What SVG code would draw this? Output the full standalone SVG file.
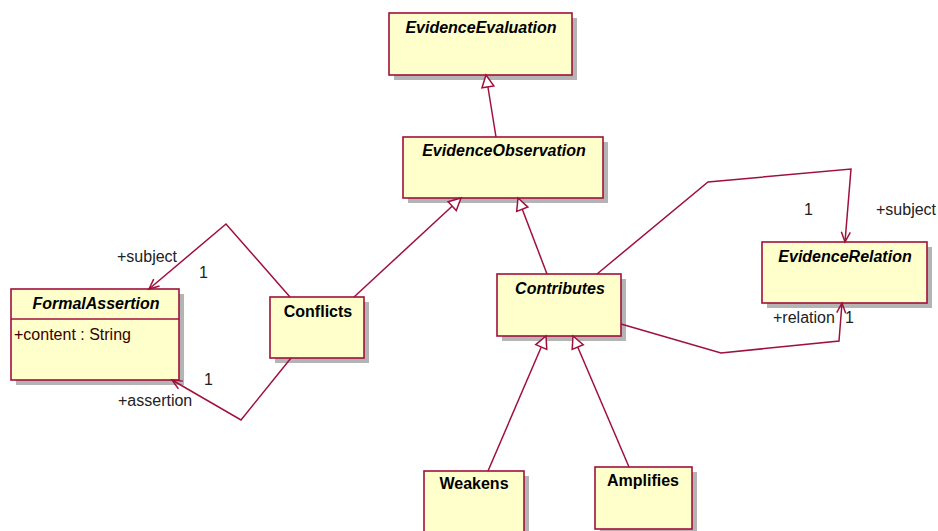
<svg xmlns="http://www.w3.org/2000/svg" width="938" height="531" viewBox="0 0 938 531">
<style>
.sh{fill:#b4b4b4;stroke:none}
.box{fill:#ffffcc;stroke:#a0103c;stroke-width:1.6}
.nm{font-family:"Liberation Sans",Arial,sans-serif;font-size:16px;font-weight:bold;fill:#000;text-anchor:middle}
.it{font-style:italic}
.attr{font-family:"Liberation Sans",Arial,sans-serif;font-size:16px;fill:#3a0000}
.lbl{font-family:"Liberation Sans",Arial,sans-serif;font-size:16px;fill:#222}
.ln{fill:none;stroke:#a0103c;stroke-width:1.5}
.gen{marker-end:url(#tri)}
.asc{marker-end:url(#open)}
</style>
<defs>
<marker id="tri" markerUnits="userSpaceOnUse" viewBox="0 0 15 14" markerWidth="15" markerHeight="14" refX="13" refY="7" orient="auto" overflow="visible">
<path d="M1,1 L13,7 L1,13 Z" fill="#fff" stroke="#a0103c" stroke-width="1.5"/>
</marker>
<marker id="open" markerUnits="userSpaceOnUse" viewBox="0 0 12 10" markerWidth="12" markerHeight="10" refX="11" refY="5" orient="auto" overflow="visible">
<path d="M1,0.5 L11,5 L1,9.5" fill="none" stroke="#a0103c" stroke-width="1.5"/>
</marker>
</defs>
<g id="EvidenceEvaluation">
<rect class="sh" x="394" y="18" width="183" height="62"/>
<rect class="box" x="389" y="13" width="183" height="62"/>
<text class="nm it" x="481" y="33">EvidenceEvaluation</text>
</g>
<g id="EvidenceObservation">
<rect class="sh" x="408" y="142" width="200" height="61"/>
<rect class="box" x="403" y="137" width="200" height="61"/>
<text class="nm it" x="504" y="156">EvidenceObservation</text>
</g>
<g id="FormalAssertion">
<rect class="sh" x="16" y="294" width="168" height="91"/>
<rect class="box" x="11" y="289" width="168" height="91"/>
<line x1="11" y1="319" x2="179" y2="319" stroke="#a0103c" stroke-width="1.6"/>
<text class="nm it" x="96" y="309">FormalAssertion</text>
<text class="attr" x="14" y="340">+content : String</text>
</g>
<g id="Conflicts">
<rect class="sh" x="275" y="302" width="94" height="61"/>
<rect class="box" x="270" y="297" width="94" height="61"/>
<text class="nm" x="318" y="317">Conflicts</text>
</g>
<g id="Contributes">
<rect class="sh" x="502" y="279" width="124" height="62"/>
<rect class="box" x="497" y="274" width="124" height="62"/>
<text class="nm it" x="560" y="294">Contributes</text>
</g>
<g id="EvidenceRelation">
<rect class="sh" x="767" y="247" width="165" height="61"/>
<rect class="box" x="762" y="242" width="165" height="61"/>
<text class="nm it" x="845" y="262">EvidenceRelation</text>
</g>
<g id="Weakens">
<rect class="sh" x="429" y="476" width="100" height="70"/>
<rect class="box" x="424" y="471" width="100" height="70"/>
<text class="nm" x="474" y="489">Weakens</text>
</g>
<g id="Amplifies">
<rect class="sh" x="600" y="472" width="97" height="62"/>
<rect class="box" x="595" y="467" width="97" height="62"/>
<text class="nm" x="643" y="486">Amplifies</text>
</g>
<g id="connectors">
<path class="ln gen" d="M496,137 L486,75"/>
<path class="ln gen" d="M354,297 L461,198"/>
<path class="ln gen" d="M547,274 L518,198"/>
<path class="ln gen" d="M488,471 L546,336"/>
<path class="ln gen" d="M629,467 L573,336"/>
<path class="ln asc" d="M290,297 L226,224 L149,289"/>
<path class="ln asc" d="M291,358 L241,420 L172,380"/>
<path class="ln asc" d="M597,274 L708,182 L851,169 L845,242"/>
<path class="ln asc" d="M621,324 L721,353 L839,341 L842,303"/>
<text class="lbl" x="117" y="262">+subject</text>
<text class="lbl" x="199" y="278">1</text>
<text class="lbl" x="204" y="385">1</text>
<text class="lbl" x="118" y="406">+assertion</text>
<text class="lbl" x="804" y="215">1</text>
<text class="lbl" x="876" y="215">+subject</text>
<text class="lbl" x="773" y="323">+relation</text>
<text class="lbl" x="845" y="323">1</text>
</g>
</svg>
